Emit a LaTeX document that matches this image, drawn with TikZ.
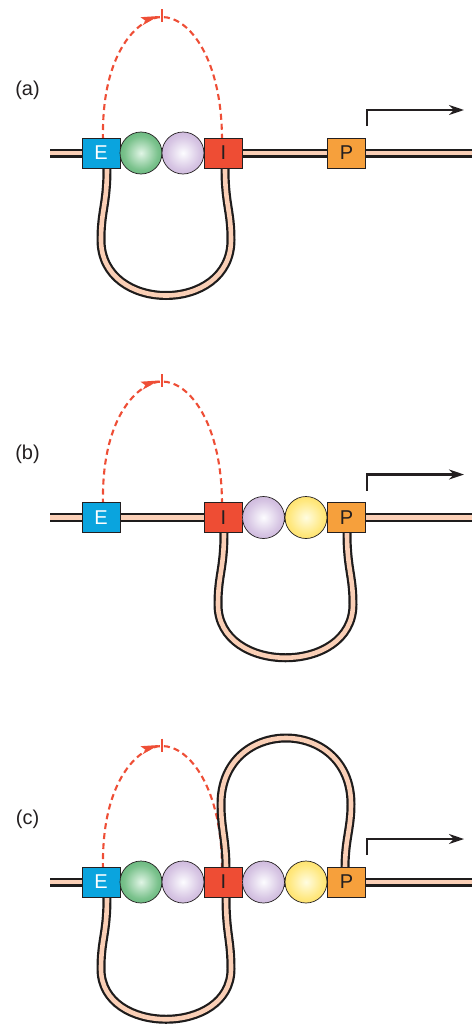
\documentclass[tikz,border=0pt]{standalone}
\usepackage{fontspec}
\setmainfont{Liberation Sans}
\usetikzlibrary{arrows.meta,calc}
\definecolor{peach}{RGB}{250,207,182}
\definecolor{tubeedge}{RGB}{30,28,28}
\definecolor{eboxc}{RGB}{10,164,222}
\definecolor{iboxc}{RGB}{238,77,52}
\definecolor{pboxc}{RGB}{246,160,60}
\definecolor{redd}{RGB}{238,78,54}
\definecolor{ink}{RGB}{35,31,32}
\pgfdeclareradialshading{greenball}{\pgfpoint{0bp}{0bp}}{rgb(0bp)=(0.88,0.96,0.90);rgb(20bp)=(0.48,0.76,0.55);rgb(50bp)=(0.17,0.57,0.30)}
\pgfdeclareradialshading{purpleball}{\pgfpoint{0bp}{0bp}}{rgb(0bp)=(0.99,0.99,1.0);rgb(20bp)=(0.84,0.77,0.89);rgb(50bp)=(0.68,0.55,0.76)}
\pgfdeclareradialshading{yellowball}{\pgfpoint{0bp}{0bp}}{rgb(0bp)=(1.0,0.99,0.88);rgb(20bp)=(1.0,0.91,0.50);rgb(50bp)=(0.98,0.78,0.15)}
\tikzset{
  tube/.style={draw=tubeedge, line width=2.2pt, double=peach, double distance=4.6pt},
  gbox/.style={draw=ink, line width=0.7pt, minimum height=30pt, minimum width=38pt, inner sep=0pt,
    font=\fontsize{20}{20}\selectfont},
  ebx/.style={gbox, fill=eboxc, text=white},
  ibx/.style={gbox, fill=iboxc, text=ink},
  pbx/.style={gbox, fill=pboxc, text=ink},
  ball/.style={circle, draw=ink, line width=0.7pt, minimum size=42pt, inner sep=0pt},
  gball/.style={ball, shading=greenball},
  vball/.style={ball, shading=purpleball},
  yball/.style={ball, shading=yellowball},
  act/.style={draw=redd, line width=2.1pt, dash pattern=on 6pt off 4pt},
  promo/.style={draw=ink, line width=2.2pt, -{Stealth[length=15pt,width=10pt]}},
  lab/.style={font=\fontsize{20}{20}\selectfont, text=ink},
}
\newcommand\actarc[1]{%
  \coordinate (#1s) at (103,140);
  \coordinate (#1top) at (162,17);
  \coordinate (#1t) at (222,140);
  \draw[act] (#1s) .. controls (101,50) and (140,17) .. (#1top) .. controls (190,17) and (222,60) .. (#1t);
  \fill[redd] (159,16) -- (140.5,17.2) -- (145.5,20.8) -- (142.5,25.3) -- cycle;
  \draw[redd, line width=2.1pt] (162,9.5) -- (162,22.5);
}
\newcommand\strand[2]{%
  \coordinate (#1l) at (50,153);
  \coordinate (#1r) at (472,153);
  \draw[tube] (#1l) -- (#1r);
  \node[ebx] (#1E) at (101,153) {E};
  \node[ibx] (#1I) at (223.5,153) {I};
  \node[pbx] (#1P) at (346.5,153) {P};
  \coordinate (#1ps) at (367,126);
  \coordinate (#1pe) at (464,110);
  \draw[promo] (#1ps) |- (#1pe);
  \node[lab] (#1lab) at (27.5,90) {#2};
}
\begin{document}
\begin{tikzpicture}[x=1pt,y=-1pt]
\useasboundingbox (0,0) rectangle (472,1025);
% ---------- panel (a)
\begin{scope}
  \actarc{a}
  \coordinate (aL1) at (107,153);
  \coordinate (aL2) at (225,153);
  \draw[tube] (aL1) -- (107,168) .. controls (107,205) and (101,210) .. (101,240)
     .. controls (101,314) and (231,314) .. (231,240)
     .. controls (231,210) and (225,205) .. (225,168) -- (aL2);
  \strand{a}{(a)}
  \node[gball] (ag) at (141,153) {};
  \node[vball] (av) at (183,153) {};
\end{scope}
% ---------- panel (b)
\begin{scope}[shift={(0,364.5)}]
  \actarc{b}
  \coordinate (bL1) at (224,153);
  \coordinate (bL2) at (347,153);
  \draw[tube] (bL1) -- (224,168) .. controls (224,205) and (218,210) .. (218,240)
     .. controls (218,311) and (353,311) .. (353,240)
     .. controls (353,210) and (347,205) .. (347,168) -- (bL2);
  \strand{b}{(b)}
  \node[vball] (bv) at (263.5,153) {};
  \node[yball] (by) at (306,153) {};
\end{scope}
% ---------- panel (c)
\begin{scope}[shift={(0,729)}]
  \actarc{c}
  \coordinate (cL1) at (107,153);
  \coordinate (cL2) at (226,153);
  \draw[tube] (cL1) -- (107,168) .. controls (107,205) and (101,210) .. (101,240)
     .. controls (101,307) and (231,307) .. (231,240)
     .. controls (231,210) and (226,205) .. (226,168) -- (cL2);
  \coordinate (cU1) at (226,153);
  \coordinate (cU2) at (345,153);
  \draw[tube] (cU1) -- (226,140) .. controls (226,110) and (221,100) .. (221,75)
     .. controls (221,-13) and (351,-13) .. (351,75)
     .. controls (351,100) and (345,110) .. (345,140) -- (cU2);
  \strand{c}{(c)}
  \node[gball] (cg) at (141,153) {};
  \node[vball] (cv1) at (183,153) {};
  \node[vball] (cv2) at (263.5,153) {};
  \node[yball] (cy) at (306,153) {};
\end{scope}
\end{tikzpicture}
\end{document}
